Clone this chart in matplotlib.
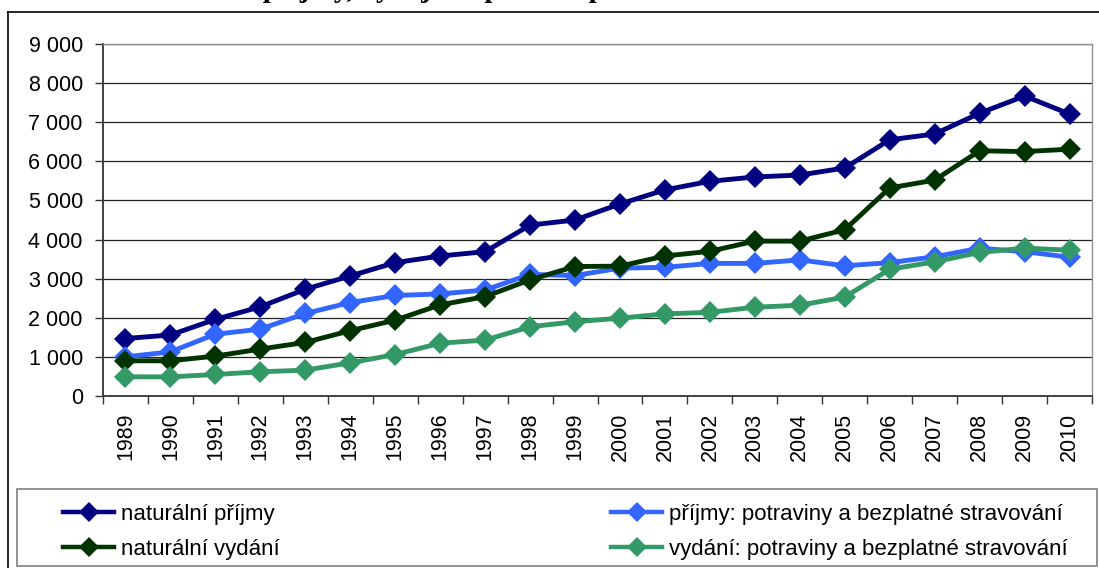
import numpy as np
import matplotlib
matplotlib.use("Agg")
import matplotlib.pyplot as plt
from matplotlib.lines import Line2D
from matplotlib.patches import Rectangle
from matplotlib.ticker import FuncFormatter, FixedLocator

plt.rcParams['font.family'] = ['Liberation Sans', 'DejaVu Sans']

# Kč na osobu za rok
years = [str(y) for y in range(1989, 2011)]
nat_prijmy = [1470, 1560, 1960, 2280, 2730, 3070, 3410, 3580, 3690, 4370, 4500,
              4910, 5270, 5490, 5600, 5650, 5830, 6550, 6700, 7230, 7670, 7210]
prijmy_potraviny = [1000, 1130, 1580, 1710, 2110, 2390, 2570, 2610, 2710, 3110, 3080,
                    3270, 3290, 3390, 3390, 3480, 3330, 3410, 3560, 3780, 3690, 3550]
nat_vydani = [900, 900, 1020, 1200, 1370, 1670, 1940, 2330, 2540, 2970, 3310,
              3320, 3580, 3700, 3960, 3960, 4250, 5320, 5520, 6270, 6250, 6310]
vydani_potraviny = [490, 490, 550, 620, 660, 850, 1060, 1350, 1430, 1770, 1900,
                    1990, 2100, 2140, 2270, 2320, 2530, 3240, 3430, 3670, 3780, 3730]

series = [
    ("naturální příjmy", nat_prijmy, "#000080"),
    ("příjmy: potraviny a bezplatné stravování", prijmy_potraviny, "#3366FF"),
    ("naturální vydání", nat_vydani, "#003300"),
    ("vydání: potraviny a bezplatné stravování", vydani_potraviny, "#339966"),
]

W, H = 1099, 568
fig = plt.figure(figsize=(W / 100, H / 100), dpi=100)


def fx(px):
    return px / W


def fy(py):
    return 1 - py / H


# outer frame (left and top edges visible)
fig.add_artist(Line2D([fx(8), fx(8)], [fy(12), -0.1], color="black", lw=1.2))
fig.add_artist(Line2D([fx(8), 1.1], [fy(12), fy(12)], color="black", lw=1.2))

# title, mostly cropped above the top edge
fig.text(0.5, fy(-3), "Naturální příjmy, výdaje a spotřeba potravin v Kč na osobu za rok",
         ha="center", va="baseline", fontsize=21, fontweight="bold",
         family=["Liberation Serif", "DejaVu Serif"])

ax = fig.add_axes([fx(103), fy(396), fx(1092) - fx(103), fy(44) - fy(396)])
x = np.arange(len(years))
for label, vals, color in series:
    ax.plot(x, vals, color=color, lw=3.5, marker="D", markersize=11.5,
            markeredgewidth=0, label=label, solid_joinstyle="miter")

ax.set_xlim(-0.5, len(years) - 0.5)
ax.set_ylim(0, 9000)
ax.set_yticks(np.arange(0, 9001, 1000))
ax.yaxis.set_major_formatter(FuncFormatter(lambda v, p: f"{int(v):,}".replace(",", " ")))
ax.yaxis.grid(True, color="#222222", lw=0.9)
ax.set_axisbelow(True)

ax.set_xticks(x)
ax.set_xticklabels(years, rotation=90)
ax.xaxis.set_minor_locator(FixedLocator(np.arange(-0.5, len(years), 1.0)))
ax.tick_params(axis="x", which="major", length=0, pad=12, labelsize=15.5)
ax.tick_params(axis="x", which="minor", length=6, width=1, color="#333333")
ax.tick_params(axis="y", length=6, width=1, color="#333333", pad=8.5, labelsize=15.5)

for side in ("left", "bottom"):
    ax.spines[side].set_color("#404040")
    ax.spines[side].set_linewidth(1.4)
for side in ("top", "right"):
    ax.spines[side].set_color("#909090")
    ax.spines[side].set_linewidth(1.0)

# legend frame
fig.add_artist(Rectangle((fx(17), fy(566)), fx(1097) - fx(17), fy(489) - fy(566),
                         fill=False, edgecolor="#808080", lw=1.2))

handles = [Line2D([], [], color=c, lw=3.2, marker="D", markersize=10, markeredgewidth=0)
           for _, _, c in series]
labels = [s[0] for s in series]
leg_kw = dict(frameon=False, fontsize=16, handlelength=2.3, handletextpad=0.3,
              labelspacing=0.62, borderpad=0, borderaxespad=0, loc="upper left")
leg1 = fig.legend([handles[0], handles[2]], [labels[0], labels[2]],
                  bbox_to_anchor=(fx(63), fy(504)), **leg_kw)
leg2 = fig.legend([handles[1], handles[3]], [labels[1], labels[3]],
                  bbox_to_anchor=(fx(611), fy(504)), **leg_kw)

fig.savefig("out.png", dpi=100)
